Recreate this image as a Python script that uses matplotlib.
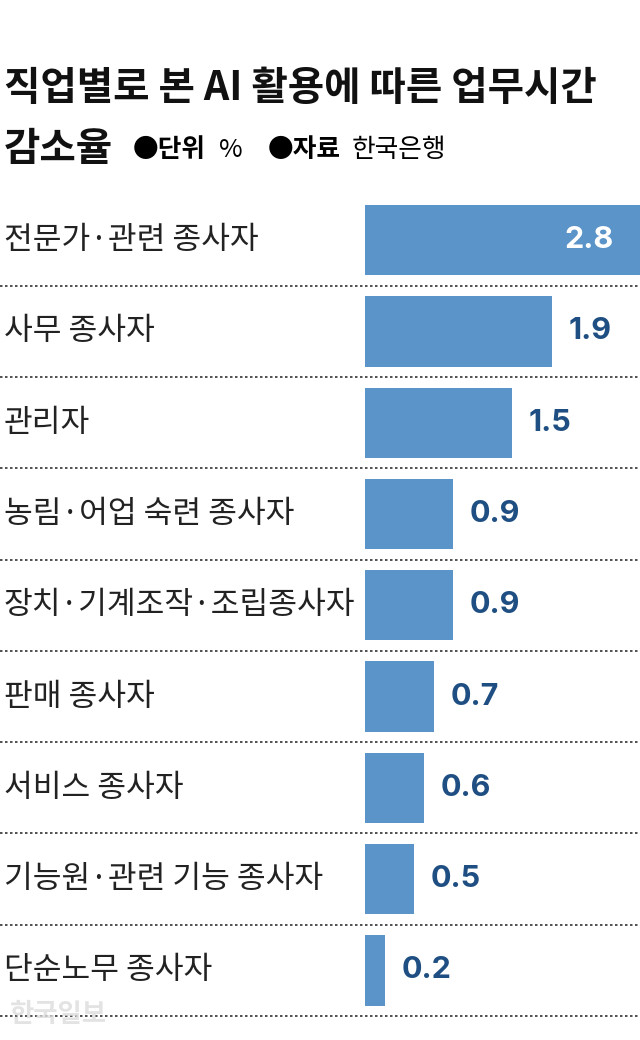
import matplotlib
matplotlib.use("Agg")
import matplotlib.pyplot as plt
from matplotlib.transforms import blended_transform_factory

plt.rcParams['font.family'] = ['Noto Sans CJK KR', 'DejaVu Sans']

categories = ["전문가·관련 종사자", "사무 종사자", "관리자", "농림·어업 숙련 종사자",
              "장치·기계조작·조립종사자", "판매 종사자", "서비스 종사자",
              "기능원·관련 기능 종사자", "단순노무 종사자"]
values = [2.8, 1.9, 1.5, 0.9, 0.9, 0.7, 0.6, 0.5, 0.2]

W, H = 640, 1040
fig = plt.figure(figsize=(W/100, H/100), dpi=100)
fig.patch.set_facecolor("white")

top_px, bot_px = 190, 1016
ax = fig.add_axes([0, 1 - bot_px/H, 1, (bot_px - top_px)/H])
scale = 98.2
ax.set_xlim(-365/scale, 275/scale)
n = len(categories)
ax.set_ylim(n - 0.5, -0.55)
ax.axis("off")

bar_color = "#5b94c9"
ax.barh(range(n), values, height=0.77, color=bar_color, left=0)
tr = blended_transform_factory(fig.transFigure, ax.transData)
for i, (c, v) in enumerate(zip(categories, values)):
    ax.text(4/W, i, c, transform=tr, fontsize=22.5, va="center", ha="left", color="#222222")
    if i == 0:
        ax.text(v - 0.27, i, f"{v}", fontsize=22, fontweight="bold", color="white",
                va="center", ha="right", family="Inter")
    else:
        ax.text(v + 0.17, i, f"{v}", fontsize=22, fontweight="bold", color="#1f4f82",
                va="center", ha="left", family="Inter")
    ax.plot([-365/scale, 275/scale], [i + 0.5, i + 0.5], color="#333333",
            lw=1.2, ls=(0, (1.5, 1.5)), clip_on=False)

fig.text(4/W, 1 - 88/H, "직업별로 본 AI 활용에 따른 업무시간", fontsize=28.5,
         fontweight="bold", va="center", ha="left", color="#111111")
fig.text(4/W, 1 - 150/H, "감소율", fontsize=28.5, fontweight="bold",
         va="center", ha="left", color="#111111")
fig.text(133/W, 1 - 150/H, "●단위", fontsize=18.5, fontweight="bold", va="center", ha="left")
fig.text(219/W, 1 - 150/H, "%", fontsize=18.5, va="center", ha="left")
fig.text(268/W, 1 - 150/H, "●자료", fontsize=18.5, fontweight="bold", va="center", ha="left")
fig.text(352/W, 1 - 150/H, "한국은행", fontsize=18.5, va="center", ha="left")
fig.text(10/W, 1 - 1015/H, "한국일보", fontsize=19, fontweight="bold",
         va="center", ha="left", color="#dddddd", alpha=0.8)

fig.savefig("out.png", dpi=100)
